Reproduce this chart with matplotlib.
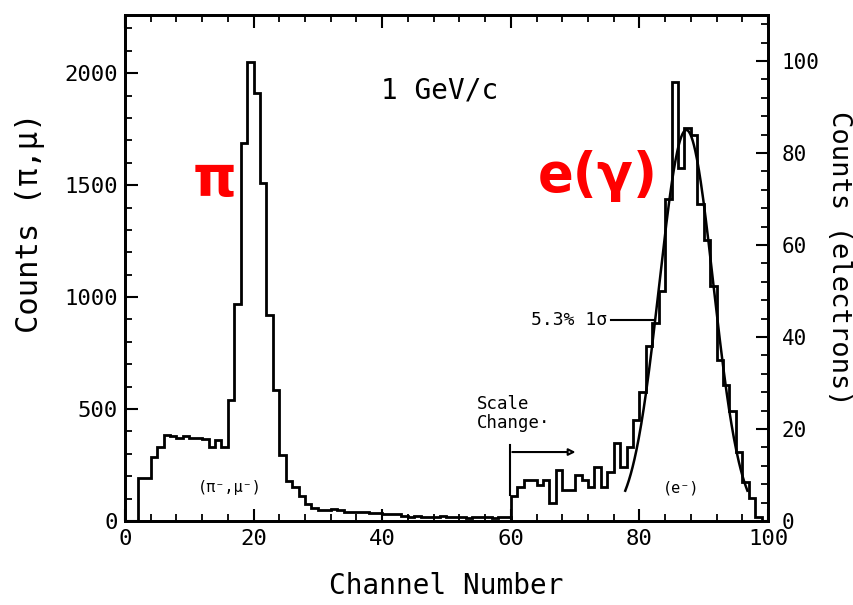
import numpy as np
import matplotlib.pyplot as plt
from matplotlib.ticker import MultipleLocator

# pion / muon counts per channel (left scale), channels 2..59
pi_edges = np.arange(2, 61)
pi_counts = [190, 190, 287, 332, 384, 380, 370, 378, 372, 372,
             365, 330, 360, 330, 540, 970, 1690, 2050, 1910, 1510,
             920, 585, 295, 180, 150, 110, 75, 60, 50, 47,
             55, 48, 40, 39, 38, 38, 37, 36, 32, 32,
             30, 22, 20, 24, 18, 20, 17, 22, 16, 18,
             20, 15, 18, 16, 19, 15, 17, 20]

# electron counts per channel (right scale), channels 60..98
e_edges = np.arange(60, 100)
e_counts = [5.5, 7.5, 9, 9, 7.8, 9, 4, 11, 6.7, 6.7,
            10, 9, 7.5, 11.8, 7.5, 10.7, 16.9, 11.8, 16, 22,
            28, 38, 43, 50, 70, 95.5, 76.7, 85.4, 84, 69,
            61, 51, 35, 29.5, 24, 15, 8.5, 5, 0.8]

# gaussian fit to the electron peak
fit_peak = 85.0
fit_mean = 87.3
fit_sigma = 4.2
fit_range = (77.8, 96.8)

font = 'DejaVu Sans Mono'

fig = plt.figure(figsize=(8.54, 6.05), dpi=100)
ax = fig.add_axes([125/854, 1 - 521/605, 643/854, 506/605])
ax2 = ax.twinx()

ax.stairs(pi_counts, pi_edges, baseline=0, color='black', linewidth=2)
ax2.stairs(e_counts, e_edges, baseline=0, color='black', linewidth=2)

xf = np.linspace(fit_range[0], fit_range[1], 200)
yf = fit_peak * np.exp(-0.5 * ((xf - fit_mean) / fit_sigma) ** 2)
ax2.plot(xf, yf, color='black', linewidth=1.8)

ax.set_xlim(0, 100)
ax.set_ylim(0, 2260)
ax2.set_ylim(0, 110)

ax.xaxis.set_major_locator(MultipleLocator(20))
ax.xaxis.set_minor_locator(MultipleLocator(4))
ax.yaxis.set_major_locator(MultipleLocator(500))
ax.yaxis.set_minor_locator(MultipleLocator(100))
ax2.yaxis.set_major_locator(MultipleLocator(20))
ax2.yaxis.set_minor_locator(MultipleLocator(4))

for a in (ax, ax2):
    a.tick_params(which='major', direction='in', length=9, width=1.5, labelsize=16, pad=6)
    a.tick_params(which='minor', direction='in', length=5, width=1.3)
    for s in a.spines.values():
        s.set_linewidth(2)
ax.tick_params(which='both', top=True)
ax.tick_params(axis='y', pad=5)
ax2.tick_params(axis='y', pad=10, labelsize=15)
for lab in ax.get_xticklabels() + ax.get_yticklabels() + ax2.get_yticklabels():
    lab.set_family(font)

ax.set_xlabel('Channel Number', fontsize=20, family=font, labelpad=16)
ax.set_ylabel('Counts (π,μ)', fontsize=22, family=font)
ax.yaxis.set_label_coords(-0.124, 0.59)
ax2.set_ylabel('Counts (electrons)', fontsize=19.5, family=font, rotation=270)
ax2.yaxis.set_label_coords(1.131, 0.52)

ax.text(49, 1924, '1 GeV/c', fontsize=20, family=font, ha='center', va='center')
ax.text(14.0, 1520, 'π', fontsize=40, color='red', fontweight='bold', ha='center', va='center')
ax2.text(73.6, 75, 'e(γ)', fontsize=38, color='red', fontweight='bold', ha='center', va='center')
ax.text(16.3, 150, '(π⁻,μ⁻)', fontsize=11, family=font, ha='center', va='center')
ax2.text(86.5, 7.2, '(e⁻)', fontsize=11, family=font, ha='center', va='center')

# scale change marker
ax.text(54.7, 480, 'Scale\nChange·', fontsize=12.5, family=font, ha='left', va='center', linespacing=1.05)
ax.plot([59.8, 59.8], [116, 339], color='black', linewidth=1.5)
ax.annotate('', xy=(70.5, 308), xytext=(59.8, 308),
            arrowprops=dict(arrowstyle='-|>', color='black', lw=1.5, fc='white'))

# resolution label
ax2.text(75.0, 43.7, '5.3% 1σ', fontsize=13, family=font, ha='right', va='center')
ax2.plot([75.6, 82.2], [43.7, 43.7], color='black', linewidth=1.5)

fig.savefig('out.png', dpi=100)
